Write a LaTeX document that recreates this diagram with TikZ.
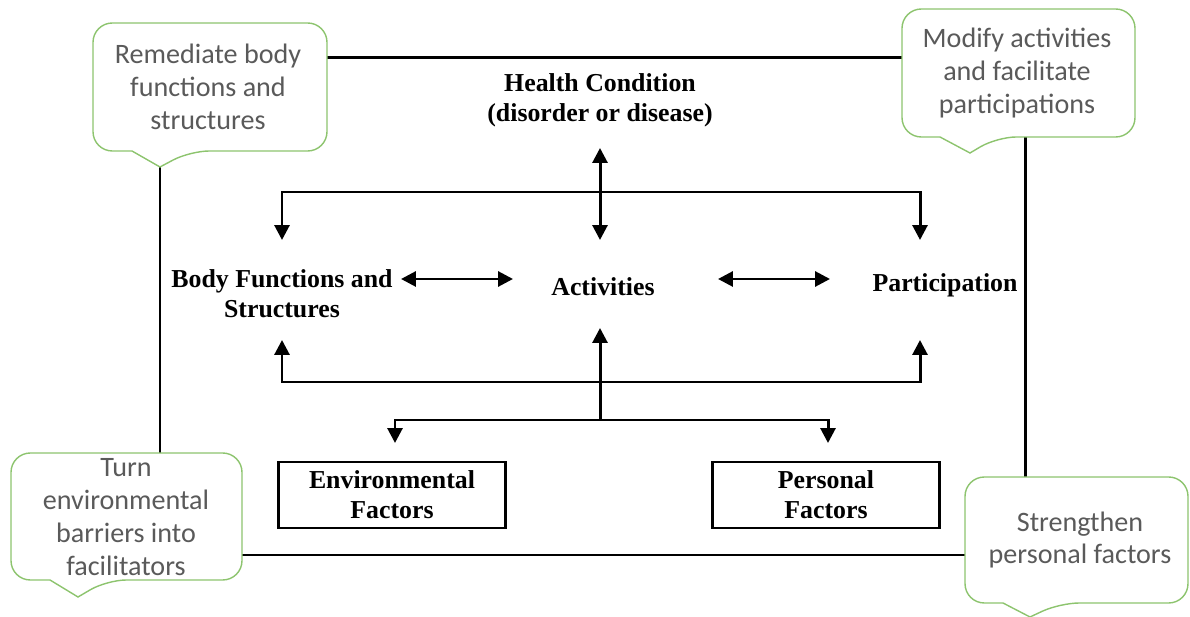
\documentclass[tikz,border=0pt]{standalone}
\usepackage{fontspec}
\setmainfont{Liberation Serif}
\newfontfamily\calloutfont{Carlito}
\usetikzlibrary{arrows.meta,positioning,calc}
\definecolor{calloutgreen}{RGB}{141,196,110}
\definecolor{callouttext}{RGB}{90,90,90}

\begin{document}
\begin{tikzpicture}[x=0.02cm, y=-0.02cm, >={Triangle[length=8.5pt,width=8.5pt]}, line width=1.7pt,
  lbl/.style={font=\fontsize{14.7}{17}\selectfont\bfseries, align=center, inner sep=0pt},
  factorbox/.style={draw, line width=1.4pt, minimum width=4.54cm, minimum height=1.32cm, inner sep=0pt, align=center,
    font=\fontsize{14.7}{17}\selectfont\bfseries},
  callout/.style={draw=calloutgreen, fill=white, line width=0.8pt},
  tiptext/.style={font=\calloutfont\fontsize{16}{18.7}\selectfont, text=callouttext, align=center, inner sep=0pt}]
  \useasboundingbox (0,0) rectangle (1190,617);

  % outer frame
  \draw (160,58) rectangle (1025,555);

  % ICF model
  \node[lbl] (health) at (600,100) {Health Condition\\(disorder or disease)};
  \node[lbl] (body) at (282,294) {Body Functions and\\Structures};
  \node[lbl] (act) at (603,287) {Activities};
  \node[lbl] (part) at (945,285) {Participation};
  \node[factorbox] (env) at (392,495) {Environmental\\Factors};
  \node[factorbox] (pers) at (826,495) {Personal\\Factors};

  \coordinate (hcTip) at (600,148);
  \coordinate (actTop) at (600,240);
  \coordinate (bfTop) at (282,240);
  \coordinate (paTop) at (920,240);
  \coordinate (bfBot) at (282,340);
  \coordinate (paBot) at (920,340);
  \coordinate (actBot) at (600,328);
  \coordinate (split) at (600,420);
  \coordinate (envTop) at (395,443);
  \coordinate (persTop) at (828,443);

  \draw[<->] (hcTip) -- (actTop);
  \draw[<->] (bfTop) -- ++(0,-48) -| (paTop);
  \draw[<->] (401,279) -- (513,279);
  \draw[<->] (718,279) -- (830,279);
  \draw[<->] (bfBot) -- ++(0,42) -| (paBot);
  \draw[->] (split) -- (actBot);
  \draw[<->] (envTop) -- ++(0,-23) -| (persTop);

  % callouts
  \draw[callout] (93,87) [rounded corners=11pt] -- (93,23) -- (327,23) -- (327,151) -- (190,151) [sharp corners] -- (160,167) -- (132,151) [rounded corners=11pt] -- (93,151) -- cycle;
  \node[tiptext] (remed) at (208,87) {Remediate body\\functions and\\structures};

  \draw[callout] (902,73) [rounded corners=11pt] -- (902,9) -- (1135,9) -- (1135,137) -- (997,137) [sharp corners] -- (970,153) -- (940,137) [rounded corners=11pt] -- (902,137) -- cycle;
  \node[tiptext] (modify) at (1017,73) {Modify activities\\and facilitate\\participations};

  \draw[callout] (11,517) [rounded corners=11pt] -- (11,453) -- (242,453) -- (242,580) -- (107,580) [sharp corners] -- (78,597) -- (50,580) [rounded corners=11pt] -- (11,580) -- cycle;
  \node[tiptext] (turn) at (126,517) {Turn\\environmental\\barriers into\\facilitators};

  \draw[callout] (965,540) [rounded corners=11pt] -- (965,477) -- (1188,477) -- (1188,603) -- (1060,603) [sharp corners] -- (1030,617) -- (1003,603) [rounded corners=11pt] -- (965,603) -- cycle;
  \node[tiptext] (streng) at (1080,540) {Strengthen\\personal factors};
\end{tikzpicture}
\end{document}
